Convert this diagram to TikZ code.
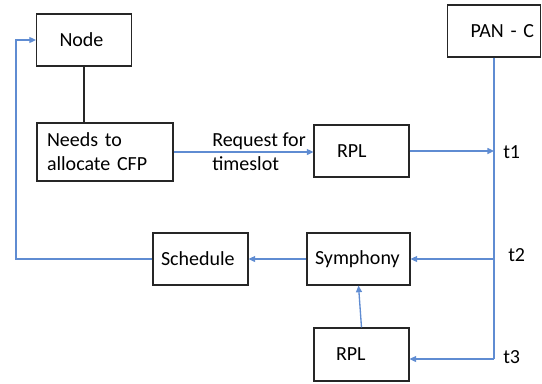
\documentclass[tikz,border=0pt]{standalone}
\usepackage{fontspec}
\setmainfont{Carlito}
\usetikzlibrary{arrows.meta}
\definecolor{lnblue}{RGB}{95,140,210}
\begin{document}
\begin{tikzpicture}[x=0.75pt,y=-0.75pt,
  txt/.style={font=\fontsize{15}{18}\selectfont},
  box/.style 2 args={draw=black!85, line width=0.8pt, txt, text width=#1, minimum height=#2,
    inner xsep=0pt, inner ysep=0pt, align=left},
  conn/.style={draw=lnblue, line width=1pt},
  arr/.style={conn, -{Triangle[length=5pt,width=4.5pt]}},
  lbl/.style={txt, inner sep=0pt, anchor=west, align=left}]
\useasboundingbox (0,0) rectangle (542,383);
\node[box={71.25pt}{39pt}] (nd) at (84,40) {\hspace*{17.25pt}Node};
\node[box={102pt}{43.5pt}] (needs) at (105,152) {\hspace*{7.5pt}Needs to\\\hspace*{7.5pt}allocate CFP};
\node[box={71.25pt}{39pt}] (rpla) at (361.5,151) {\hspace*{17.25pt}RPL};
\node[box={69.75pt}{39pt}] (pan) at (494,31) {\hspace*{17.25pt}PAN - C};
\node[box={71.25pt}{39pt}] (sched) at (200.5,259) {\hspace*{6pt}Schedule};
\node[box={77.25pt}{39pt}] (sym) at (358.5,259) {\hspace*{6pt}Symphony};
\node[box={71.25pt}{39.75pt}] (rplb) at (361.5,354.5) {\hspace*{16.5pt}RPL};
\node[lbl] (req) at (212,152) {Request for\\timeslot};
\node[lbl] (t1) at (503,152) {t1};
\node[lbl] (t2) at (508,255) {t2};
\node[lbl] (t3) at (503,357) {t3};
\coordinate (c3) at (494,359);
\coordinate (fb) at (16,259);
\draw[black!85, line width=0.8pt] (nd.south) -- (nd.south |- needs.north);
\draw[arr] (needs.east) -- (needs.east -| rpla.west);
\draw[arr] (rpla.east) -- (rpla.east -| pan.south);
\draw[conn] (pan.south) -- (c3);
\draw[arr] (c3) -- (c3 -| rplb.east);
\draw[arr] (sym.east -| pan.south) -- (sym.east);
\draw[arr] (sym.west) -- (sched.east);
\draw[arr] (rplb.north) -- (sym.south);
\draw[arr] (sched.west) -- (fb) |- (nd.west);
\end{tikzpicture}
\end{document}
